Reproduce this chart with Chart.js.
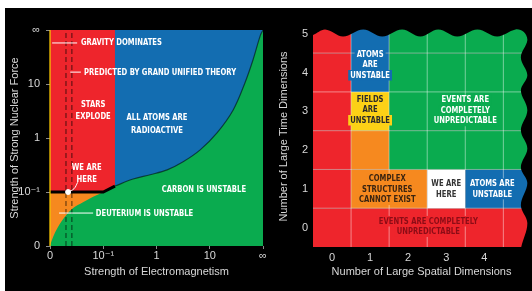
<!DOCTYPE html>
<html>
<head>
<meta charset="utf-8">
<script src="https://cdn.jsdelivr.net/npm/chart.js@4.4.1/dist/chart.umd.min.js"></script>
<style>
  html, body { margin: 0; padding: 0; background: #fff; width: 532px; height: 291px; overflow: hidden; }
  #panel { position: absolute; left: 5px; top: 8px; width: 527px; height: 283px; background: #000; }
  #left  { position: absolute; left: 0; top: 0; }
  #right { position: absolute; left: 265px; top: 0; }
</style>
</head>
<body>
<div id="panel">
  <canvas id="left" width="265" height="283"></canvas>
  <canvas id="right" width="262" height="283"></canvas>
</div>
<script>
// ---- datos del panel izquierdo (fuerzas) ----
const emTicks      = ['0', '10⁻¹', '1', '10', '∞'];   // Strength of Electromagnetism
const nuclearTicks = ['0', '10⁻¹', '1', '10', '∞'];   // Strength of Strong Nuclear Force

// frontera "carbon is unstable" (x = electromagnetismo, y = fuerza nuclear)
const carbonEM      = [0, 0.06, 0.15, 0.28, 0.43, 0.62, 0.81, 1.0, 1.22, 1.56, 1.88, 2.2, 2.5, 2.82, 3.14, 3.44, 3.66, 3.81, 3.95, 4];
const carbonNuclear = [0, 0.17, 0.35, 0.54, 0.70, 0.81, 0.91, 1.0, 1.11, 1.24, 1.32, 1.41, 1.56, 1.78, 2.1, 2.52, 3.02, 3.44, 3.9, 4];
const deuteriumLimit = 1.0;   // por debajo el deuterio es inestable
const starsExplodeEM = 1.22;  // borde derecho de la zona roja
const gutBandEM      = [0.30, 0.41];
const weAreHereForce = [0.34, 1.0];

// ---- datos del panel derecho (dimensiones) ----
const spatialDims = [0, 1, 2, 3, 4];
const timeDims    = [0, 1, 2, 3, 4, 5];
// una cadena por fila de tiempo (0..5), una letra por columna espacial (0..5)
const cellRows = ['RRRRRR', 'ROOWBB', 'ROGGGG', 'RYGGGG', 'RBGGGG', 'RBGGGG'];
// bordes ondulados (leidos a ojo)
const topEdgeX   = [-0.5, -0.18, 0.29, 0.82, 1.32, 1.84, 2.32, 2.79, 3.29, 3.82, 4.34, 4.82];
const topEdgeY   = [4.97, 5.11, 4.93, 5.11, 4.93, 5.11, 4.93, 5.11, 4.93, 5.11, 4.93, 5.11];
const rightEdgeX = [5.03, 5.13, 4.96, 5.13, 4.96, 5.13, 4.96, 5.13, 4.96, 5.13, 4.96, 5.13, 4.97];
const rightEdgeY = [5.05, 4.83, 4.39, 3.93, 3.54, 3.03, 2.51, 2.04, 1.56, 1.15, 0.58, 0.12, -0.5];

const RED = '#ee252c', BLUE = '#136db1', GREEN = '#0aab4f', ORANGE = '#f6891f', YELLOW = '#fcd116', WHITE = '#ffffff';
const cellColours = { R: RED, O: ORANGE, W: WHITE, B: BLUE, G: GREEN, Y: YELLOW };

const TEXT_FONT = '"Liberation Sans Narrow", "DejaVu Sans Condensed", sans-serif';
const AXIS_FONT = '"Liberation Sans", "DejaVu Sans", sans-serif';
const AXIS_COLOR = '#d8d8d8';

// textos de las regiones (posicion en unidades de los ejes)
const leftLabels = [
  { lines: ['GRAVITY DOMINATES'], x: 0.58, y: 3.76, align: 'left' },
  { lines: ['PREDICTED BY GRAND UNIFIED THEORY'], x: 0.64, y: 3.22, align: 'left' },
  { lines: ['STARS', 'EXPLODE'], x: 0.81, y: 2.51 },
  { lines: ['ALL ATOMS ARE', 'RADIOACTIVE'], x: 2.01, y: 2.26 },
  { lines: ['WE ARE', 'HERE'], x: 0.69, y: 1.34 },
  { lines: ['CARBON IS UNSTABLE'], x: 2.89, y: 1.04 },
  { lines: ['DEUTERIUM IS UNSTABLE'], x: 0.86, y: 0.61, align: 'left' }
];
const leaderLines = [
  [[0.04, 3.76], [0.51, 3.76]],
  [[0.38, 3.22], [0.58, 3.22]],
  [[0.17, 0.61], [0.81, 0.61]]
];
const rightLabels = [
  { lines: ['ATOMS', 'ARE', 'UNSTABLE'], x: 1, y: 4.2, color: '#fff', bg: BLUE },
  { lines: ['FIELDS', 'ARE', 'UNSTABLE'], x: 1, y: 3.04, color: '#2b2b2b', bg: YELLOW },
  { lines: ['EVENTS ARE', 'COMPLETELY', 'UNPREDICTABLE'], x: 3.5, y: 3.02, color: '#fff', bg: GREEN },
  { lines: ['COMPLEX', 'STRUCTURES', 'CANNOT EXIST'], x: 1.45, y: 0.99, color: '#3b2410', bg: ORANGE },
  { lines: ['WE ARE', 'HERE'], x: 3, y: 1.0, color: '#333' },
  { lines: ['ATOMS ARE', 'UNSTABLE'], x: 4.21, y: 1.0, color: '#fff', bg: BLUE },
  { lines: ['EVENTS ARE COMPLETELY', 'UNPREDICTABLE'], x: 2.53, y: 0.03, color: '#8c0c16', bg: RED }
];

// ---- utilidades ----
function pts(xs, ys) { return xs.map((x, i) => ({ x: x, y: ys[i] })); }
function rect(x0, x1, y0, y1) { return [{ x: x0, y: y0 }, { x: x1, y: y0 }, { x: x1, y: y1 }, { x: x0, y: y1 }]; }

function area(data, color, tension) {
  return { data, showLine: true, fill: 'shape', backgroundColor: color, borderColor: 'transparent',
           borderWidth: 0, pointRadius: 0, tension: tension || 0 };
}
function stroke(data, color, width, dash, tension) {
  return { data, showLine: true, fill: false, borderColor: color, borderWidth: width,
           borderDash: dash || [], pointRadius: 0, tension: tension || 0 };
}
// primero = fondo, ultimo = encima
function layered(list) { return list.map((d, i) => Object.assign(d, { order: list.length - i })); }

function makeTextPlugin(items, size, lineHeight, squeeze) {
  return {
    id: 'regionText',
    afterDatasetsDraw(chart) {
      const ctx = chart.ctx, sx = chart.scales.x, sy = chart.scales.y;
      ctx.save();
      ctx.font = 'bold ' + size + 'px ' + TEXT_FONT;
      ctx.textBaseline = 'middle';
      ctx.textAlign = 'left';
      items.forEach(item => {
        const px = sx.getPixelForValue(item.x), py = sy.getPixelForValue(item.y);
        const n = item.lines.length;
        item.lines.forEach((txt, i) => {
          const ly = py + (i - (n - 1) / 2) * lineHeight;
          const w = ctx.measureText(txt).width * squeeze;
          const left = item.align === 'left' ? px : px - w / 2;
          if (item.bg) {
            ctx.fillStyle = item.bg;
            ctx.fillRect(left - 2, ly - lineHeight / 2, w + 4, lineHeight);
          }
          ctx.save();
          ctx.translate(left, ly);
          ctx.scale(squeeze, 1);
          ctx.fillStyle = item.color || '#fff';
          ctx.fillText(txt, 0, 0);
          ctx.restore();
        });
      });
      ctx.restore();
    }
  };
}

function axis(min, max, values, labels, opts) {
  return {
    type: 'linear', min: min, max: max,
    afterBuildTicks: s => { s.ticks = values.map(v => ({ value: v })); },
    afterFit: opts.fit,
    ticks: { callback: v => labels[values.indexOf(v)], color: AXIS_COLOR, font: { family: AXIS_FONT, size: 11 },
             padding: opts.padding, autoSkip: false, maxRotation: 0 },
    grid: { display: opts.tickLength > 0, drawOnChartArea: false, drawTicks: opts.tickLength > 0,
            tickLength: opts.tickLength, color: '#8a8a8a' },
    border: { display: false },
    title: { display: true, text: opts.title, color: AXIS_COLOR, font: { family: AXIS_FONT, size: 11 }, padding: opts.titlePadding }
  };
}

// ---- panel izquierdo ----
const carbon = pts(carbonEM, carbonNuclear);
const greenShape = [{ x: -0.12, y: -0.45 }].concat(carbon, [{ x: 4.1, y: 4.3 }, { x: 4.6, y: 4.3 }, { x: 4.6, y: -0.6 }, { x: -0.12, y: -0.6 }]);
const blackEdge = [{ x: 0, y: deuteriumLimit }].concat(carbon.filter(p => p.x >= deuteriumLimit && p.x <= starsExplodeEM));
const blueEdge = carbon.filter(p => p.x >= starsExplodeEM);

const leftSets = layered([
  area(rect(0, 4, 0, 4), BLUE),
  area(rect(0, starsExplodeEM, deuteriumLimit, 4), RED),
  area(rect(0, starsExplodeEM, 0, deuteriumLimit), ORANGE),
  area(greenShape, GREEN, 0.35),
  stroke(blueEdge, 'rgba(0,0,0,0.55)', 1.2, [], 0.35),
  stroke([{ x: gutBandEM[0], y: 0 }, { x: gutBandEM[0], y: 4 }], 'rgba(0,0,0,0.45)', 1.5, [5, 3]),
  stroke([{ x: gutBandEM[1], y: 0 }, { x: gutBandEM[1], y: 4 }], 'rgba(0,0,0,0.45)', 1.5, [5, 3]),
  stroke(blackEdge, '#000', 3),
  Object.assign(stroke([{ x: 0, y: 0 }, { x: 0, y: 4 }], '#f5c400', 1.3), { clip: false }),
  ...leaderLines.map(l => stroke(l.map(p => ({ x: p[0], y: p[1] })), '#fff', 1)),
  stroke([{ x: 0.52, y: 1.18 }, { x: 0.45, y: 1.06 }, { x: weAreHereForce[0], y: weAreHereForce[1] }], '#fff', 1, [], 0.4),
  { data: [{ x: weAreHereForce[0], y: weAreHereForce[1] }], pointRadius: 2.5, backgroundColor: '#fff', borderColor: '#fff', showLine: false }
]);

new Chart(document.getElementById('left'), {
  type: 'scatter',
  data: { datasets: leftSets },
  options: {
    responsive: false, animation: false, events: [],
    layout: { padding: { top: 22, right: 7, left: 0, bottom: 0 } },
    elements: { line: { capBezierPoints: false } },
    plugins: { legend: { display: false }, tooltip: { enabled: false } },
    scales: {
      x: axis(0, 4, [0, 1, 2, 3, 4], emTicks, { fit: s => { s.height = 45; }, padding: 0, tickLength: 3,
           title: 'Strength of Electromagnetism', titlePadding: { top: 0, bottom: 12 } }),
      y: axis(0, 4, [0, 1, 2, 3, 4], nuclearTicks, { fit: s => { s.width = 45; }, padding: 6, tickLength: 4,
           title: 'Strength of Strong Nuclear Force', titlePadding: { top: 3, bottom: 0 } })
    }
  },
  plugins: [makeTextPlugin(leftLabels, 9.5, 12.5, 0.8)]
});

// ---- panel derecho ----
const cellSets = [];
cellRows.forEach((row, r) => {
  let c = 0;
  while (c < row.length) {
    let e = c;
    while (e + 1 < row.length && row[e + 1] === row[c]) e++;
    const x1 = e === row.length - 1 ? 5.6 : e + 0.5;
    const y1 = r === cellRows.length - 1 ? 5.6 : r + 0.5;
    cellSets.push(area(rect(c - 0.5, x1, r - 0.5, y1), cellColours[row[c]]));
    c = e + 1;
  }
});
const gridSets = spatialDims.map(v => stroke([{ x: v + 0.5, y: -0.5 }, { x: v + 0.5, y: 5.6 }], 'rgba(255,255,255,0.45)', 1))
  .concat(timeDims.slice(0, 5).map(v => stroke([{ x: -0.5, y: v + 0.5 }, { x: 5.6, y: v + 0.5 }], 'rgba(255,255,255,0.45)', 1)));
const maskShape = [{ x: -0.6, y: 5.6 }, { x: -0.6, y: 4.96 }]
  .concat(pts(topEdgeX, topEdgeY), pts(rightEdgeX, rightEdgeY),
          [{ x: 4.97, y: -0.6 }, { x: 5.6, y: -0.6 }, { x: 5.6, y: 5.6 }]);

new Chart(document.getElementById('right'), {
  type: 'scatter',
  data: { datasets: layered(cellSets.concat(gridSets, [area(maskShape, '#000', 0.35)])) },
  options: {
    responsive: false, animation: false, events: [],
    layout: { padding: { top: 18, right: 2, left: 0, bottom: 0 } },
    elements: { line: { capBezierPoints: false } },
    plugins: { legend: { display: false }, tooltip: { enabled: false } },
    scales: {
      x: axis(-0.5, 5.2, spatialDims, spatialDims.map(String), { fit: s => { s.height = 44; }, padding: 4, tickLength: 0,
           title: 'Number of Large Spatial Dimensions', titlePadding: { top: 0, bottom: 12 } }),
      y: axis(-0.5, 5.2, timeDims, timeDims.map(String), { fit: s => { s.width = 43; }, padding: 5, tickLength: 0,
           title: 'Number of Large Time Dimensions', titlePadding: { top: 7, bottom: 0 } })
    }
  },
  plugins: [makeTextPlugin(rightLabels, 9.5, 10.5, 0.8)]
});
</script>
</body>
</html>
